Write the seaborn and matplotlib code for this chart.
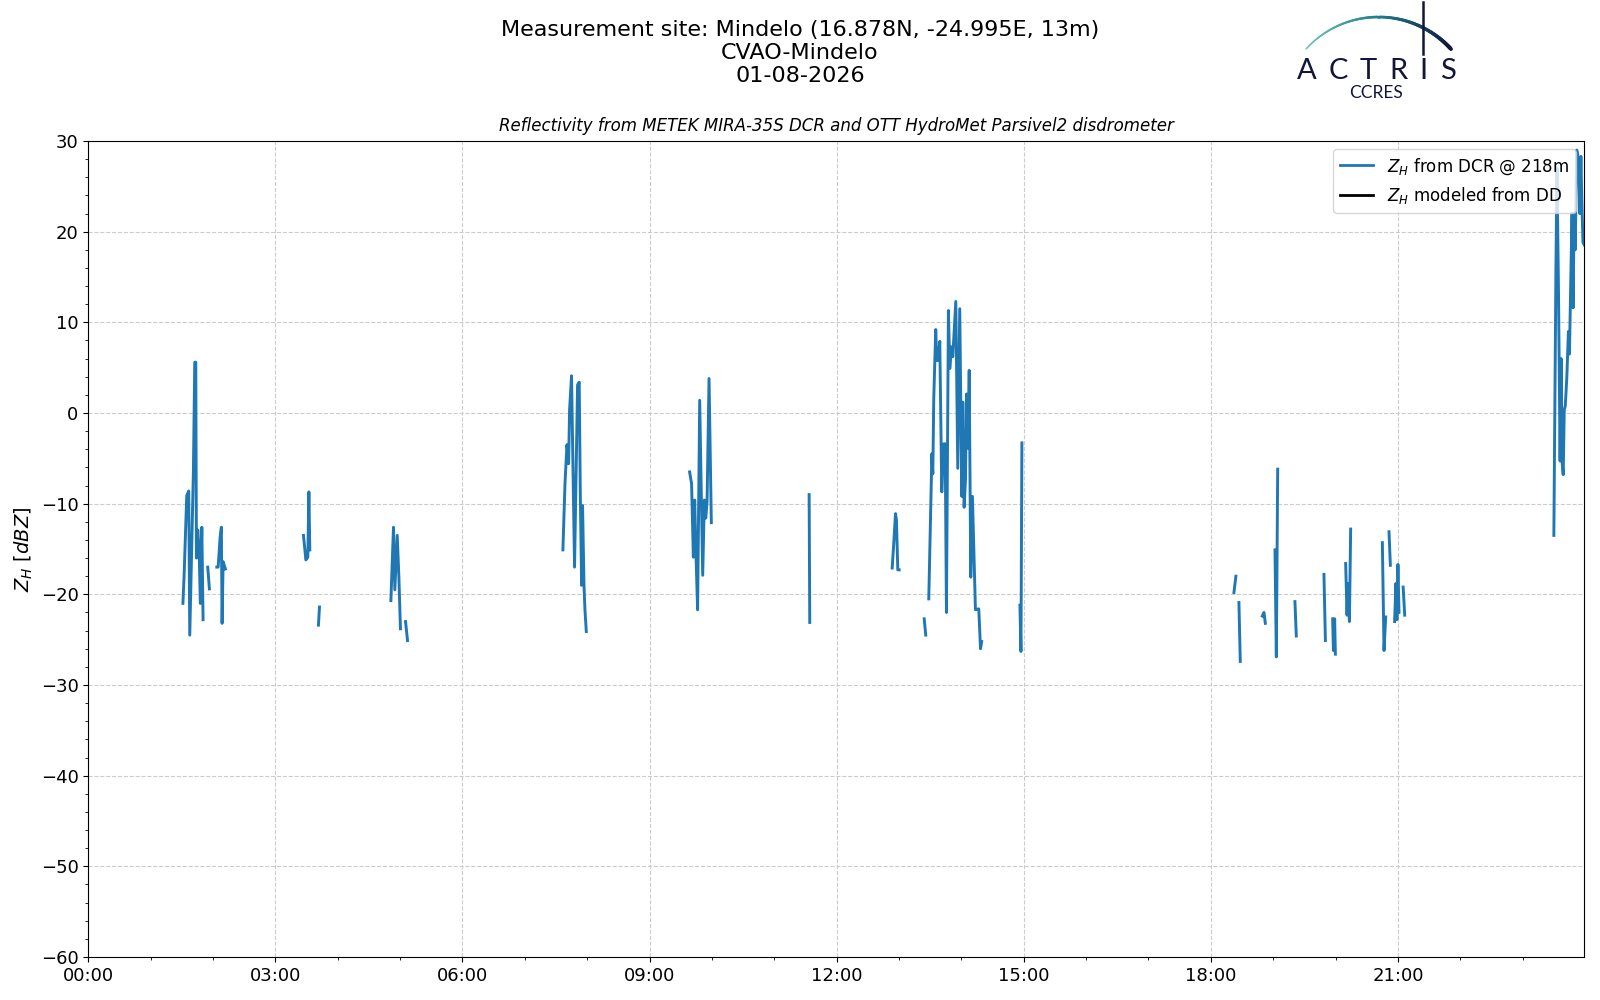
import numpy as np
import pandas as pd
import matplotlib
matplotlib.use("Agg")
import matplotlib.pyplot as plt
import matplotlib.dates as mdates
from matplotlib.ticker import MultipleLocator
from matplotlib.collections import LineCollection
from matplotlib.lines import Line2D
import seaborn as sns

nan = np.nan

day = "2026-08-01"
site_title = "Measurement site: Mindelo (16.878N, -24.995E, 13m)\nCVAO-Mindelo\n01-08-2026"
sub_title = "Reflectivity from METEK MIRA-35S DCR and OTT HydroMet Parsivel2 disdrometer"
label_dcr = r"$Z_H$ from DCR @ 218m"
label_dd = r"$Z_H$ modeled from DD"

# minutes after midnight, nan = gap in the radar record
minutes = [
    91.0, 92.1, 94.7, 96.6, 97.6, 101.1, 102.4, 103.4, 104.0, 105.3, 106.6, 107.8, 109.2, 110.4, nan,
    114.9, 116.5, nan,
    123.6, 124.9, 126.8, 128.0, 128.7, 129.7, 131.9, nan,
    207.0, 209.3, 211.2, 212.2, 213.1, nan,
    221.4, 222.4, nan,
    291.1, 293.6, 294.9, 297.2, 298.8, 300.3, nan,
    305.2, 307.1, nan,
    456.6, 458.6, 460.5, 462.1, 463.0, 464.9, 467.8, 470.7, 472.3, 473.3, 474.6, 475.5, 476.9, 477.8, 479.1, nan,
    578.5, 580.4, 582.1, 583.4, 584.7, 586.2, 588.2, 591.1, 592.7, 594.0, 595.3, 597.2, 599.4, nan,
    693.5, 694.1, nan,
    773.4, 774.9, 776.6, 777.5, 778.8, 780.1, nan,
    804.2, 805.7, nan,
    808.6, 811.2, 811.5, 812.5, 813.4, 815.3, 816.3, 817.6, 819.2, 821.1, 823.0, 824.4, 825.6, 827.5,
    828.8, 830.5, 831.7, 834.6, 836.5, 838.4, 840.4, 841.3, 842.6, 843.9, 844.9, 846.5, 847.5, 849.0,
    850.6, 853.5, 856.7, 858.4, 859.5, nan,
    896.3, 897.3, 898.2, nan,
    1102.2, 1104.1, nan,
    1107.0, 1108.3, nan,
    1129.5, 1131.1, 1132.4, nan,
    1141.7, 1143.0, 1144.3, nan,
    1160.9, 1162.2, nan,
    1188.8, 1190.2, nan,
    1197.2, 1197.9, 1199.1, 1199.8, nan,
    1209.7, 1211.0, 1211.9, 1213.3, 1214.5, nan,
    1245.0, 1246.6, 1248.2, nan,
    1251.4, 1252.7, nan,
    1256.8, 1258.0, 1259.0, 1260.0, 1261.0, nan,
    1265.0, 1266.5, nan,
    1410.0, 1412.0, 1413.0, 1414.5, 1416.0, 1417.0, 1418.0, 1419.0, 1420.0, 1421.0, 1422.5, 1424.0,
    1425.0, 1426.5, 1427.5, 1428.5, 1429.5, 1430.5, 1432.0, 1433.0, 1434.0, 1435.0, 1436.0, 1437.0,
    1438.0, 1439.5,
]

zh_dcr = [
    -21.0, -18.1, -9.1, -8.6, -24.5, -6.4, 5.6, 5.6, -16.0, -12.9, -15.1, -21.0, -12.6, -22.8, nan,
    -17.0, -19.4, nan,
    -17.0, -17.0, -13.7, -12.6, -23.2, -16.4, -17.2, nan,
    -13.5, -16.2, -15.9, -8.7, -15.1, nan,
    -23.4, -21.4, nan,
    -20.7, -12.6, -19.5, -13.5, -18.1, -23.8, nan,
    -23.0, -25.1, nan,
    -15.1, -7.8, -3.5, -5.6, 0.3, 4.1, -17.0, 3.1, 3.4, -8.5, -19.0, -10.2, -19.0, -21.7, -24.1, nan,
    -6.5, -7.8, -15.9, -9.6, -15.9, -21.7, 1.4, -17.9, -9.6, -11.6, -9.8, 3.8, -12.1, nan,
    -9.0, -23.1, nan,
    -17.1, -14.4, -11.1, -11.8, -17.3, -17.3, nan,
    -22.7, -24.5, nan,
    -20.5, -6.7, -4.5, -6.7, 1.6, 9.2, 5.8, 5.8, 7.9, -8.7, -3.4, -3.4, -22.0, 11.3,
    4.9, 7.3, 6.2, 12.3, -6.1, 11.5, -9.2, 1.2, -10.4, -7.4, 2.1, -3.9, 4.7, -18.1,
    -9.2, -21.7, -21.6, -26.0, -25.2, nan,
    -21.2, -26.3, -3.3, nan,
    -19.8, -18.0, nan,
    -20.9, -27.4, nan,
    -22.4, -22.0, -23.2, nan,
    -15.1, -26.9, -6.2, nan,
    -20.8, -24.6, nan,
    -17.8, -25.1, nan,
    -22.7, -26.2, -22.7, -26.6, nan,
    -16.6, -22.3, -18.8, -23.0, -12.8, nan,
    -14.3, -26.2, -22.5, nan,
    -13.1, -16.8, nan,
    -23.0, -18.8, -22.8, -16.7, -22.0, nan,
    -19.2, -22.3, nan,
    -13.5, 16.0, 27.0, 13.0, -5.3, 6.0, -5.5, -6.8, 0.3, 0.8, 4.0, 9.0,
    6.5, 16.0, 22.0, 11.6, 22.0, 18.0, 29.0, 28.5, 27.0, 22.0, 28.3, 23.0,
    18.8, 18.5,
]

df = pd.DataFrame({"minute": minutes, "zh": zh_dcr})
df["seg"] = df["zh"].isna().cumsum()
df = df.dropna()
t0 = pd.Timestamp(day)
df["time"] = t0 + pd.to_timedelta(df["minute"], unit="min")

fig = plt.figure(figsize=(16, 10), dpi=100)
ax = fig.add_axes([0.0552, 0.043, 0.9348, 0.816])

sns.lineplot(data=df, x="time", y="zh", units="seg", estimator=None, sort=False,
             color="#1f77b4", lw=2.1, ax=ax, legend=False)

ax.set_xlim(t0, t0 + pd.Timedelta(minutes=1439))
ax.set_ylim(-60, 30)
ax.xaxis.set_major_locator(mdates.HourLocator(byhour=range(0, 24, 3)))
ax.xaxis.set_minor_locator(mdates.HourLocator())
ax.xaxis.set_major_formatter(mdates.DateFormatter("%H:%M"))
ax.yaxis.set_major_locator(MultipleLocator(10))
ax.yaxis.set_minor_locator(MultipleLocator(2))
ax.tick_params(labelsize=13)
ax.grid(True, which="major", ls="--", color="#cccccc", lw=0.8)
ax.set_xlabel("")
ax.set_ylabel(r"$Z_H$ [$dBZ$]", fontsize=14)
ax.set_title(sub_title, style="italic", fontsize=12, pad=7)

handles = [Line2D([], [], color="#1f77b4", lw=2, label=label_dcr),
           Line2D([], [], color="black", lw=2, label=label_dd)]
ax.legend(handles=handles, loc="upper right", fontsize=12)

fig.text(0.5, 0.980, site_title, ha="center", va="top", fontsize=16, linespacing=1.2)

# ACTRIS CCRES logo
navy = "#12163a"
logo = fig.add_axes([1290 / 1600, 0.9, 170 / 1600, 0.1])
logo.set_xlim(1290, 1460)
logo.set_ylim(100, 0)
logo.axis("off")
cx, cy, r = 1378.5, 115.0, 98.0
phi = np.linspace(-np.radians(47.7), np.radians(47.7), 120)
arc_x = cx + r * np.sin(phi)
arc_y = cy - r * np.cos(phi)
pts = np.column_stack([arc_x, arc_y]).reshape(-1, 1, 2)
segs = np.concatenate([pts[:-1], pts[1:]], axis=1)
grad = matplotlib.colors.LinearSegmentedColormap.from_list("logo", ["#6cc6bf", "#1f7f92", navy])
cols = grad(np.linspace(0, 1, len(segs)))
widths = np.linspace(1.0, 2.8, len(segs))
logo.add_collection(LineCollection(segs, colors=cols, linewidths=widths, capstyle="round"))
logo.plot([1423, 1423], [2, 54], color=navy, lw=1.8)
for letter, lx in zip("ACTRIS", [1306.7, 1338, 1368, 1398, 1423, 1447.5]):
    logo.text(lx, 71, letter, ha="center", va="center", fontsize=21, color=navy, family="Lato")
logo.text(1376, 93, "CCRES", ha="center", va="center", fontsize=12.5, color=navy, family="Lato")

fig.savefig("out.png", dpi=100)
